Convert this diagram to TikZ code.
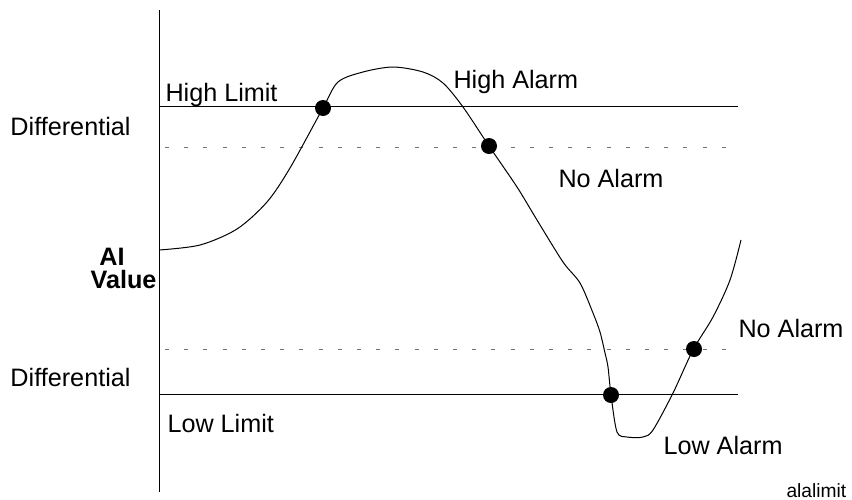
\documentclass[tikz,border=0pt]{standalone}
\usepackage{fontspec}
\setmainfont{Liberation Sans}
\usetikzlibrary{shapes,arrows}

\begin{document}
\begin{tikzpicture}[x=0.5pt,y=-0.5pt,line width=0.5pt,
  lbl/.style={inner sep=0pt,anchor=base west,font=\fontsize{12.6}{15}\selectfont},
  dot/.style={circle,fill=black,inner sep=0pt,minimum size=8pt},
  diff/.style={dash pattern=on 2pt off 7.6pt,draw=black!55}]
\useasboundingbox (0,0) rectangle (852,499);
\coordinate (top) at (159,10);
\coordinate (bot) at (159,492);
\coordinate (hl) at (159,106);
\coordinate (hr) at (738,106);
\coordinate (hdl) at (165,147);
\coordinate (hdr) at (738,147);
\coordinate (ldl) at (165,349);
\coordinate (ldr) at (738,349);
\coordinate (ll) at (159,394);
\coordinate (lr) at (738,394);
\draw (top) -- (bot);
\draw (hl) -- (hr);
\draw (ll) -- (lr);
\draw[diff] (hdl) -- (hdr);
\draw[diff] (ldl) -- (ldr);
% AI value
\draw plot[smooth,tension=0.5] coordinates {(159,250) (200,245) (237,229)
  (267,202) (290,168) (323,108) (338,82) (363,72) (393,67) (423,72)
  (443,83) (463,107) (489,146) (517,187) (537,220) (563,262) (580,283)
  (593,313) (600,332) (605,353) (608,367) (611,395) (617,432) (627,437)
  (643,437) (653,430) (673,393) (693,350) (713,317) (730,280) (741,240)};
\node[dot] (d1) at (323,108) {};
\node[dot] (d2) at (489,146) {};
\node[dot] (d3) at (611,395) {};
\node[dot] (d4) at (694,349) {};
\node[lbl] (hlim) at (165,101) {High Limit};
\node[lbl] (diff1) at (10,135) {Differential};
\node[lbl] (halarm) at (453,88) {High Alarm};
\node[lbl] (noal1) at (558,187) {No Alarm};
\node[lbl,anchor=base,text depth=0pt,font=\fontsize{12.6}{15}\selectfont\bfseries] (ai) at (112,265) {AI};
\node[lbl,anchor=base east,text height=9pt,font=\fontsize{12.6}{15}\selectfont\bfseries] (val) at (157,288) {Value};
\node[lbl] (noal2) at (738,337) {No Alarm};
\node[lbl] (diff2) at (10,386) {Differential};
\node[lbl] (llim) at (167,432) {Low Limit};
\node[lbl] (lalarm) at (663,454) {Low Alarm};
\node[lbl,font=\fontsize{9.6}{11}\selectfont] (name) at (786,497) {alalimit};
\end{tikzpicture}
\end{document}
